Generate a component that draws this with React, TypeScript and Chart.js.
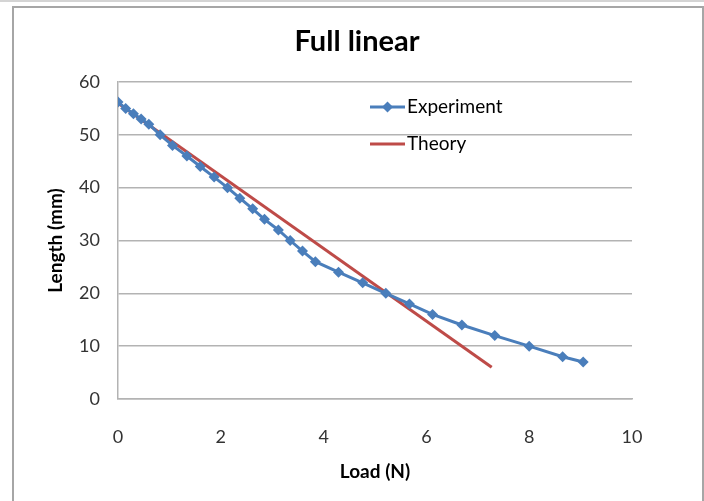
import React, { useEffect, useRef } from "react";
import { Chart, registerables } from "chart.js";

Chart.register(...registerables);

const loadN = [0, 0.15, 0.3, 0.45, 0.6, 0.82, 1.06, 1.34, 1.6, 1.87, 2.13, 2.37, 2.62, 2.85, 3.12, 3.35, 3.59, 3.84, 4.29, 4.76, 5.21, 5.67, 6.12, 6.69, 7.33, 8.0, 8.65, 9.05];
const lengthMm = [56.2, 55, 54, 53, 52, 50, 48, 46, 44, 42, 40, 38, 36, 34, 32, 30, 28, 26, 24, 22, 20, 18, 16, 14, 12, 10, 8, 7];
const theoryLoad = [0, 7.27];
const theoryLength = [56, 6];
const xTicks = [0, 2, 4, 6, 8, 10];
const yTicks = [0, 10, 20, 30, 40, 50, 60];
const chartTitle = "Full linear";

const BLUE = "#4A7EBB";
const RED = "#BE4B48";
const FONT = "Lato, 'Open Sans', sans-serif";

const titlePlugin = {
  id: "centeredTitle",
  afterDraw(chart: any) {
    const { ctx, width } = chart;
    ctx.save();
    ctx.fillStyle = "#000";
    ctx.font = `bold 29px ${FONT}`;
    ctx.textAlign = "center";
    ctx.textBaseline = "middle";
    ctx.fillText(chartTitle, width / 2 + 5, 42);
    ctx.restore();
  },
};

const legendPlugin = {
  id: "insideLegend",
  afterDraw(chart: any) {
    const { ctx, chartArea } = chart;
    const x0 = chartArea.left + 252;
    const rows = [chartArea.top + 25, chartArea.top + 62];
    ctx.save();
    chart.data.datasets.forEach((ds: any, i: number) => {
      const y = rows[i];
      ctx.strokeStyle = ds.borderColor;
      ctx.lineWidth = 3;
      ctx.beginPath();
      ctx.moveTo(x0, y);
      ctx.lineTo(x0 + 35, y);
      ctx.stroke();
      if (ds.pointRadius > 0) {
        ctx.fillStyle = ds.borderColor;
        ctx.beginPath();
        const cx = x0 + 17.5;
        const r = 5.5;
        ctx.moveTo(cx, y - r);
        ctx.lineTo(cx + r, y);
        ctx.lineTo(cx, y + r);
        ctx.lineTo(cx - r, y);
        ctx.closePath();
        ctx.fill();
      }
      ctx.fillStyle = "#000";
      ctx.font = `19px ${FONT}`;
      ctx.textBaseline = "middle";
      ctx.textAlign = "left";
      ctx.fillText(ds.label, x0 + 37, y);
    });
    ctx.restore();
  },
};

export default function App() {
  const ref = useRef<HTMLCanvasElement>(null);
  useEffect(() => {
    const chart = new Chart(ref.current as HTMLCanvasElement, {
      type: "line",
      data: {
        datasets: [
          {
            label: "Experiment",
            data: loadN.map((x, i) => ({ x, y: lengthMm[i] })),
            borderColor: BLUE,
            backgroundColor: BLUE,
            borderWidth: 3,
            pointStyle: "rectRot",
            pointRadius: 5.5,
            pointBorderWidth: 0,
            tension: 0,
          },
          {
            label: "Theory",
            data: theoryLoad.map((x, i) => ({ x, y: theoryLength[i] })),
            borderColor: RED,
            backgroundColor: RED,
            borderWidth: 3,
            pointRadius: 0,
            tension: 0,
          },
        ],
      },
      options: {
        animation: false,
        responsive: false,
        devicePixelRatio: 1,
        layout: { padding: { left: 0, right: 72, top: 82, bottom: 0 } },
        plugins: {
          legend: { display: false },
          tooltip: { enabled: false },
          title: { display: false },
        },
        scales: {
          x: {
            type: "linear",
            min: 0,
            max: 10,
            afterBuildTicks: (s: any) => {
              s.ticks = xTicks.map((v) => ({ value: v }));
            },
            afterFit: (s: any) => {
              s.height = 102;
            },
            grid: { display: false, drawTicks: false },
            border: { display: true, color: "#B3B3B3", width: 1.5 },
            ticks: {
              color: "#333",
              padding: 27,
              font: { family: FONT, size: 18 },
            },
            title: {
              display: true,
              text: "Load (N)",
              color: "#000",
              font: { family: FONT, size: 19, weight: "bold", lineHeight: 1.2 },
              padding: { top: 4, bottom: 18 },
            },
          },
          y: {
            type: "linear",
            min: 0,
            max: 60,
            afterBuildTicks: (s: any) => {
              s.ticks = yTicks.map((v) => ({ value: v }));
            },
            afterFit: (s: any) => {
              s.width = 118;
            },
            grid: { color: "#B3B3B3", lineWidth: 1.5, drawTicks: false },
            border: { display: true, color: "#B3B3B3", width: 1.5 },
            ticks: {
              color: "#333",
              padding: 18,
              font: { family: FONT, size: 18 },
            },
            title: {
              display: true,
              text: "Length (mm)",
              color: "#000",
              font: { family: FONT, size: 19, weight: "bold", lineHeight: 1.2 },
              padding: { top: 44, bottom: 4 },
            },
          },
        },
      },
      plugins: [legendPlugin, titlePlugin],
    } as any);
    return () => chart.destroy();
  }, []);

  return (
    <div style={{ position: "fixed", left: 0, top: 0, width: 704, height: 501, overflow: "hidden", background: "#fff" }}>
      <div style={{ position: "absolute", left: 0, top: 0, width: 704, height: 2, background: "#D4D4D4" }} />
      <div
        style={{
          position: "absolute",
          left: 12,
          top: 6,
          width: 688,
          height: 600,
          borderLeft: "2px solid #A6A6A6",
          borderTop: "2px solid #A6A6A6",
          borderRight: "2px solid #A6A6A6",
        }}
      />
      <canvas ref={ref} width={704} height={501} style={{ position: "absolute", left: 0, top: 0, width: 704, height: 501 }} />
    </div>
  );
}
